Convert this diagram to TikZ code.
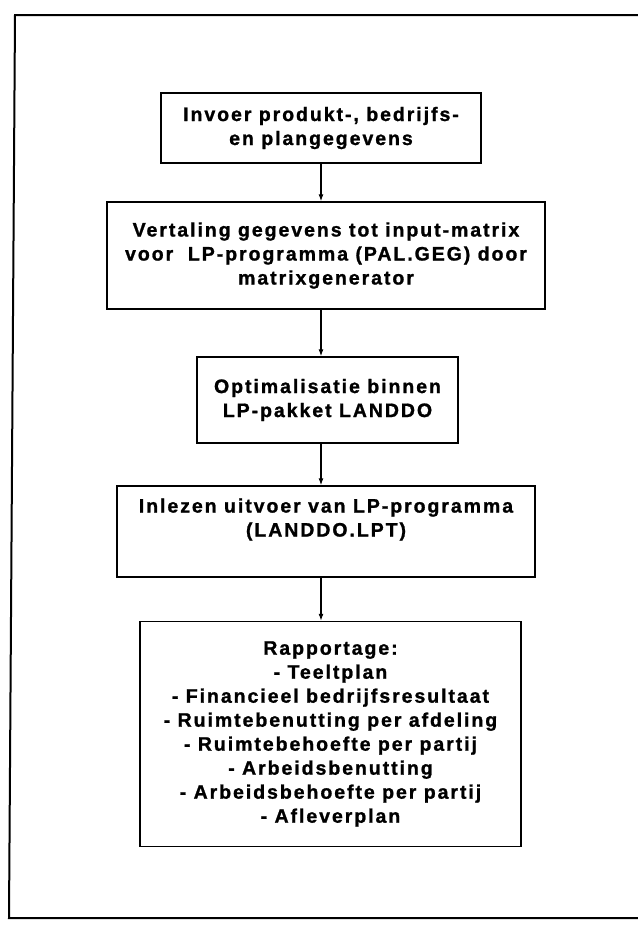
\documentclass[tikz,border=0pt]{standalone}
\usepackage{fontspec}
\setmainfont{Liberation Sans}[LetterSpace=10, BoldFeatures={FakeBold=1.2}]
\usetikzlibrary{arrows.meta}
\begin{document}
\begin{tikzpicture}[x=1pt,y=-1pt,
  box/.style={draw=black, line width=1.5pt, rectangle, inner sep=0pt, align=center,
    font=\fontsize{19.5}{24}\selectfont\bfseries},
  arr/.style={draw=black, line width=1.1pt, -{Latex[length=7pt,width=5pt]}},
  frameline/.style={draw=black, line width=2pt}]
\useasboundingbox (0,0) rectangle (637,926);
% outer frame (right side open)
\draw[frameline] (640,15) -- (15,15) -- (9,918) -- (640,918);
% boxes
\node[box, minimum width=320pt, minimum height=70pt] (b1) at (321,128)
  {Invoer produkt-, bedrijfs-\\en plangegevens};
\node[box, minimum width=438pt, minimum height=107pt] (b2) at (326,255.5)
  {Vertaling gegevens tot input-matrix\\voor\ \ LP-programma (PAL.GEG) door\\matrixgenerator};
\node[box, minimum width=261pt, minimum height=86pt] (b3) at (327.5,400)
  {Optimalisatie binnen\\LP-pakket LANDDO};
\node[box, minimum width=418pt, minimum height=91pt] (b4) at (326,531.5)
  {Inlezen uitvoer van LP-programma\\(LANDDO.LPT)\\[4pt]\mbox{}};
\node[box, minimum width=381pt, minimum height=225pt] (b5) at (330.5,734)
  {Rapportage:\\- Teeltplan\\- Financieel bedrijfsresultaat\\- Ruimtebenutting per afdeling\\- Ruimtebehoefte per partij\\- Arbeidsbenutting\\- Arbeidsbehoefte per partij\\- Afleverplan};
% connectors
\coordinate (ax) at (321,0);
\draw[arr] (b1.south -| ax) -- (b2.north -| ax);
\draw[arr] (b2.south -| ax) -- (b3.north -| ax);
\draw[arr] (b3.south -| ax) -- (b4.north -| ax);
\draw[arr] (b4.south -| ax) -- (b5.north -| ax);
\end{tikzpicture}
\end{document}
